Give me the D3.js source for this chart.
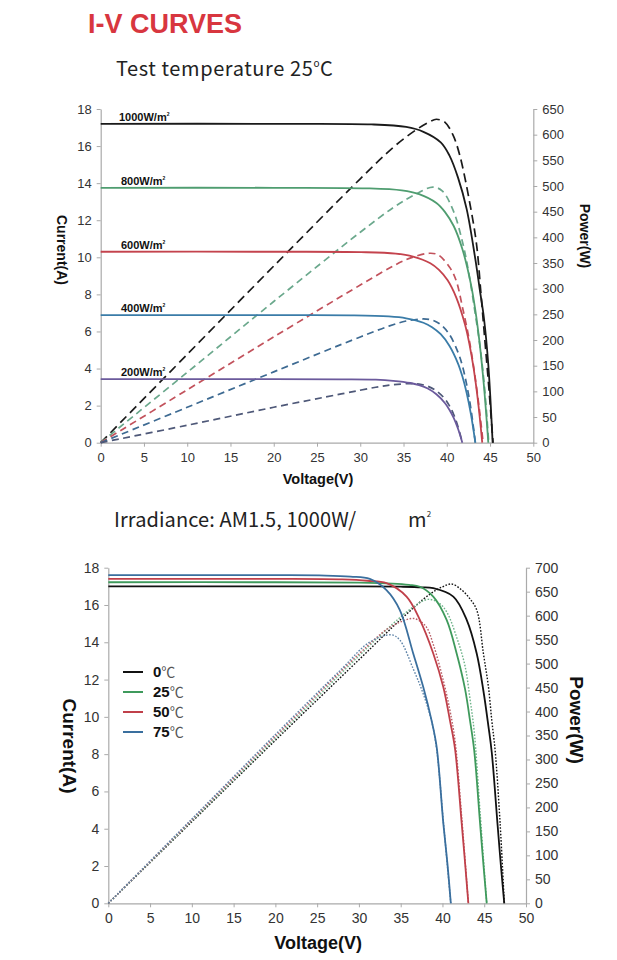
<!DOCTYPE html>
<html>
<head>
<meta charset="utf-8">
<title>I-V curves</title>
<script src="https://cdn.jsdelivr.net/npm/d3@7"></script>
<style>
  body { margin: 0; background: #fff; }
  svg text { font-family: "Liberation Sans", Arial, sans-serif; }
  .tick text { fill: #333; }
  .domain, .tick line { stroke: #aaa; }
</style>
</head>
<body>
<svg width="617" height="960"></svg>
<script>
// ---- top chart : irradiance (25 C) ----
var irrLabels = ["1000", "800", "600", "400", "200"];
var irrColors = ["#1a1a1a", "#4f9d70", "#c4434d", "#3a7ca8", "#6b5a9c"];
var irrDashColors = ["#1a1a1a", "#6aa88c", "#c2525c", "#3d6a92", "#4e5878"];

var vI1000 = [0, 20, 31.3, 35.3, 37.3, 39.3, 40.3, 41.3, 42.3, 43.3, 43.8, 44.3, 44.8, 45.3];
var iI1000 = [17.2, 17.2, 17.17, 17.03, 16.77, 16.2, 15.5, 14.3, 12.6, 9.9, 8.3, 6.7, 4.2, 0];
var vI800 = [0, 20, 30.8, 34.8, 36.8, 38.8, 39.8, 40.8, 41.8, 42.8, 43.3, 43.8, 44.3, 44.8];
var iI800 = [13.75, 13.75, 13.72, 13.61, 13.41, 12.93, 12.44, 11.69, 10.45, 8.53, 7.15, 5.36, 3.03, 0];
var vI600 = [0, 20, 30.1, 34.1, 36.1, 38.1, 39.1, 40.1, 41.1, 42.1, 42.6, 43.1, 43.6, 44.1];
var iI600 = [10.3, 10.3, 10.28, 10.2, 10.04, 9.68, 9.32, 8.76, 7.83, 6.39, 5.36, 4.02, 2.27, 0];
var vI400 = [0, 20, 29.3, 33.3, 35.3, 37.3, 38.3, 39.3, 40.3, 41.3, 41.8, 42.3, 42.8, 43.3];
var iI400 = [6.88, 6.88, 6.87, 6.81, 6.71, 6.47, 6.23, 5.85, 5.23, 4.27, 3.58, 2.68, 1.51, 0];
var vI200 = [0, 20, 27.8, 31.8, 33.8, 35.8, 36.8, 37.8, 38.8, 39.8, 40.3, 40.8, 41.3, 41.8];
var iI200 = [3.43, 3.43, 3.42, 3.40, 3.34, 3.22, 3.10, 2.92, 2.61, 2.13, 1.78, 1.34, 0.75, 0];

var vP1000 = [0, 10, 20, 30, 34, 36.5, 38, 38.8, 39.8, 40.7, 41.5, 42.7, 43.45, 43.95, 44.4, 44.8, 45.35];
var pP1000 = [0, 172, 344, 514, 578, 610, 625, 630, 624, 600, 560, 463, 385, 290, 200, 120, 0];
var vP800 = [0, 10, 20, 30, 34, 36.5, 38.4, 39.5, 40.75, 41.9, 42.6, 43.3, 43.9, 44.4, 44.85];
var pP800 = [0, 137, 275, 410, 460, 485, 498, 490, 452, 385, 325, 250, 180, 100, 0];
var vP600 = [0, 10, 20, 30, 34, 36, 38, 39, 40.4, 41.1, 41.8, 42.6, 43.3, 43.8, 44.2];
var pP600 = [0, 103, 206, 307, 346, 361, 369, 366, 340, 315, 265, 200, 125, 60, 0];
var vP400 = [0, 10, 20, 30, 33.3, 35.3, 37.3, 38.3, 39.3, 40.3, 41.3, 41.8, 42.3, 42.8, 43.3];
var pP400 = [0, 69, 138, 206, 227, 237, 241, 239, 230, 211, 176, 150, 113, 65, 0];
var vP200 = [0, 10, 20, 27.8, 31.8, 33.8, 35.8, 36.8, 37.8, 38.8, 39.8, 40.3, 40.8, 41.3, 41.8];
var pP200 = [0, 34, 69, 95, 108, 113, 115, 114, 110, 101, 85, 72, 55, 31, 0];

// ---- bottom chart : temperature (1000 W/m2) ----
var tempLabels = ["0", "25", "50", "75"];
var tempColors = ["#111111", "#3f9a5c", "#c0404a", "#3a6f9e"];
var tempDotColors = ["#111111", "#6fb48a", "#b86068", "#5f84a8"];

var vT0 = [0, 20, 30, 35, 37.5, 38.9, 41.3, 42.9, 44.1, 44.9, 45.5, 45.9, 46.6, 47.0, 47.4];
var iT0 = [17.0, 17.0, 17.0, 16.98, 16.95, 16.9, 16.45, 15.2, 13.4, 11.4, 9.5, 8.1, 4.2, 2.0, 0];
var vT25 = [0, 20, 30, 34, 36, 37.3, 38.9, 40.5, 41.7, 42.7, 43.3, 43.8, 44.5, 44.9, 45.3];
var iT25 = [17.22, 17.22, 17.2, 17.15, 17.08, 16.98, 16.45, 15.2, 13.4, 11.5, 9.8, 8.2, 4.3, 2.1, 0];
var vT50 = [0, 20, 28, 31, 33.3, 35.7, 37.3, 38.9, 40.1, 40.9, 41.5, 42.3, 42.7, 43.1];
var iT50 = [17.4, 17.4, 17.37, 17.3, 17.17, 16.45, 15.2, 13.4, 11.6, 9.8, 8.3, 4.3, 2.2, 0];
var vT75 = [0, 20, 26, 29, 31.3, 33.3, 34.9, 36.5, 37.7, 38.7, 39.3, 40.1, 40.6, 41.0];
var iT75 = [17.6, 17.6, 17.58, 17.52, 17.4, 16.8, 15.73, 13.4, 11.6, 9.8, 8.4, 4.3, 2.1, 0];

var vQ0 = [0, 10, 20, 30, 35, 38.5, 40, 41.1, 42.2, 43.2, 44.1, 44.9, 45.5, 45.9, 46.3, 46.9, 47.4];
var pQ0 = [0, 170, 340, 508, 592, 645, 660, 666, 655, 637, 612, 521, 452, 382, 320, 167, 0];
var vQ25 = [0, 10, 20, 30, 34, 36.5, 38.3, 39.6, 40.5, 41.7, 42.7, 43.3, 43.8, 44.5, 45.3];
var pQ25 = [0, 172, 344, 516, 582, 618, 634, 626, 608, 555, 495, 426, 359, 191, 0];
var vQ50 = [0, 10, 20, 30, 33.3, 35, 36.6, 38, 38.9, 40.1, 40.9, 41.5, 42.3, 43.1];
var pQ50 = [0, 174, 348, 520, 571, 587, 594, 578, 540, 465, 402, 340, 181, 0];
var vQ75 = [0, 10, 20, 28, 31.3, 33.9, 34.9, 36.5, 37.7, 38.7, 39.3, 40.1, 41.0];
var pQ75 = [0, 176, 352, 490, 545, 560, 549, 489, 437, 380, 322, 172, 0];

var xTicks = [0, 5, 10, 15, 20, 25, 30, 35, 40, 45, 50];
var iTicks = [0, 2, 4, 6, 8, 10, 12, 14, 16, 18];
var pTicksTop = d3.range(0, 651, 50);
var pTicksBottom = d3.range(0, 701, 50);

function pairs(xs, ys) {
  return xs.map(function (v, k) { return [v, ys[k]]; });
}

var svg = d3.select("svg");

// titles
svg.append("text").attr("x", 88).attr("y", 33)
  .attr("textLength", 154).attr("lengthAdjust", "spacingAndGlyphs")
  .style("font-size", "27px").style("font-weight", "bold").style("fill", "#d8363f")
  .text("I-V CURVES");

var t1 = svg.append("text").attr("x", 116).attr("y", 76)
  .style("font-family", "'Noto Sans CJK JP', 'Noto Sans', sans-serif")
  .style("font-size", "20px").style("letter-spacing", "0.6px").style("fill", "#222");
t1.append("tspan").text("Test temperature 25");
t1.append("tspan").attr("dy", -9).style("font-size", "10px").text("o");
t1.append("tspan").attr("dy", 9).text("C");

var t2 = svg.append("text").attr("y", 527)
  .style("font-family", "'Noto Sans CJK JP', 'Noto Sans', sans-serif")
  .style("font-size", "20px").style("letter-spacing", "0.1px").style("fill", "#222");
t2.append("tspan").attr("x", 114).text("Irradiance: AM1.5, 1000W/");
t2.append("tspan").attr("x", 408).text("m");
t2.append("tspan").attr("dy", -10).style("font-size", "8px").text("2");

function drawChart(g, cfg) {
  var x = d3.scaleLinear().domain([0, 50]).range([cfg.x0, cfg.x1]);
  var yI = d3.scaleLinear().domain([0, 18]).range([cfg.y0, cfg.y1]);
  var yP = d3.scaleLinear().domain([0, cfg.pMax]).range([cfg.y0, cfg.y1]);

  g.append("g").attr("transform", "translate(0," + cfg.y0 + ")")
    .call(d3.axisBottom(x).tickValues(xTicks).tickSize(4).tickSizeOuter(0).tickPadding(6))
    .selectAll("text").style("font-size", cfg.tickFont + "px");
  g.append("g").attr("transform", "translate(" + cfg.x0 + ",0)")
    .call(d3.axisLeft(yI).tickValues(iTicks).tickSize(4).tickSizeOuter(0).tickPadding(5))
    .selectAll("text").style("font-size", cfg.tickFont + "px");
  g.append("g").attr("transform", "translate(" + cfg.x1 + ",0)")
    .call(d3.axisRight(yP).tickValues(cfg.pTicks).tickSize(4).tickSizeOuter(0).tickPadding(5))
    .selectAll("text").style("font-size", cfg.tickFont + "px");
  g.selectAll(".domain").attr("stroke", "#aaa").attr("stroke-width", 1.2);

  var lineI = d3.line().x(function (d) { return x(d[0]); })
    .y(function (d) { return yI(d[1]); }).curve(d3.curveCatmullRom.alpha(0.5));
  var lineP = d3.line().x(function (d) { return x(d[0]); })
    .y(function (d) { return yP(d[1]); }).curve(d3.curveCatmullRom.alpha(0.5));

  g.selectAll("path.pw").data(cfg.power).enter().append("path")
    .attr("class", "pw")
    .attr("d", function (d) { return lineP(d); })
    .attr("fill", "none")
    .attr("stroke", function (d, i) { return cfg.dashColors[i]; })
    .attr("stroke-width", cfg.dashWidth)
    .attr("stroke-dasharray", function (d, i) { return i == 0 ? cfg.dashFirst : cfg.dash; });

  g.selectAll("path.cur").data(cfg.current).enter().append("path")
    .attr("class", "cur")
    .attr("d", function (d) { return lineI(d); })
    .attr("fill", "none")
    .attr("stroke", function (d, i) { return cfg.colors[i]; })
    .attr("stroke-width", 1.8);

  // axis titles
  g.append("text").attr("transform", "translate(" + cfg.ltx + "," + cfg.lty + ") rotate(90)")
    .attr("text-anchor", "middle").attr("dy", "0.35em")
    .style("font-size", cfg.titleFont + "px").style("font-weight", "bold").style("fill", "#111")
    .text("Current(A)");
  g.append("text").attr("transform", "translate(" + cfg.rtx + "," + cfg.rty + ") rotate(90)")
    .attr("text-anchor", "middle").attr("dy", "0.35em")
    .style("font-size", cfg.titleFont + "px").style("font-weight", "bold").style("fill", "#111")
    .text("Power(W)");
  g.append("text").attr("x", (cfg.x0 + cfg.x1) / 2 + 1).attr("y", cfg.xty)
    .attr("text-anchor", "middle")
    .style("font-size", cfg.xTitleFont + "px").style("font-weight", "bold").style("fill", "#111")
    .text("Voltage(V)");

  return { x: x, yI: yI };
}

var topG = svg.append("g");
var topScales = drawChart(topG, {
  x0: 100.7, x1: 533.3, y0: 442.7, y1: 109, pMax: 650, pTicks: pTicksTop,
  tickFont: 13, titleFont: 14, xTitleFont: 14.5,
  ltx: 62, lty: 250, rtx: 585, rty: 236, xty: 484,
  colors: irrColors, dashColors: irrDashColors, dashWidth: 1.7,
  dash: "7,4.5", dashFirst: "9,5",
  current: [pairs(vI1000, iI1000), pairs(vI800, iI800), pairs(vI600, iI600), pairs(vI400, iI400), pairs(vI200, iI200)],
  power: [pairs(vP1000, pP1000), pairs(vP800, pP800), pairs(vP600, pP600), pairs(vP400, pP400), pairs(vP200, pP200)]
});

// irradiance labels above each flat line
var irrLevels = [iI1000[0], iI800[0], iI600[0], iI400[0], iI200[0]];
var lab = topG.selectAll("text.irr").data(irrLabels).enter().append("text")
  .attr("class", "irr")
  .attr("x", function (d, i) { return i == 0 ? 119 : 121; })
  .attr("y", function (d, i) { return topScales.yI(irrLevels[i]) - 3; })
  .style("font-size", "11px").style("font-weight", "bold").style("fill", "#111");
lab.append("tspan").text(function (d) { return d + "W/m"; });
lab.append("tspan").attr("dy", -5).style("font-size", "5px").text("2");

var bottomG = svg.append("g");
drawChart(bottomG, {
  x0: 108.3, x1: 526, y0: 903.3, y1: 567.7, pMax: 700, pTicks: pTicksBottom,
  tickFont: 14, titleFont: 19, xTitleFont: 18,
  ltx: 70, lty: 746, rtx: 577, rty: 720, xty: 949,
  colors: tempColors, dashColors: tempDotColors, dashWidth: 1.4,
  dash: "1.6,1.6", dashFirst: "1.6,1.6",
  current: [pairs(vT0, iT0), pairs(vT25, iT25), pairs(vT50, iT50), pairs(vT75, iT75)],
  power: [pairs(vQ0, pQ0), pairs(vQ25, pQ25), pairs(vQ50, pQ50), pairs(vQ75, pQ75)]
});

// legend
var leg = bottomG.selectAll("g.leg").data(tempLabels).enter().append("g")
  .attr("class", "leg")
  .attr("transform", function (d, i) { return "translate(123," + (672 + i * 20) + ")"; });
leg.append("line").attr("x1", 0).attr("x2", 20).attr("y1", 0).attr("y2", 0)
  .attr("stroke", function (d, i) { return tempColors[i]; }).attr("stroke-width", 2);
var lt = leg.append("text").attr("x", 30).attr("dy", "0.36em").style("font-size", "15px");
lt.append("tspan").style("font-weight", "bold").style("fill", "#111").text(function (d) { return d; });
lt.append("tspan").style("fill", "#555")
  .style("font-family", "'Noto Sans CJK JP', sans-serif").style("font-size", "14px").text("\u2103");
</script>
</body>
</html>
